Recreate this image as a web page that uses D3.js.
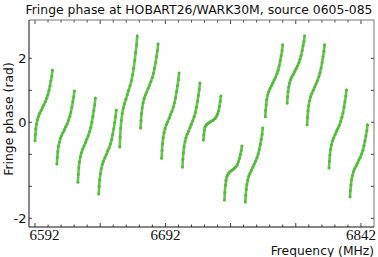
<!DOCTYPE html>
<html><head><meta charset="utf-8">
<script src="https://cdn.jsdelivr.net/npm/d3@7"></script>
<style>body{margin:0;background:#fff} svg{display:block}</style>
</head><body><svg id="c" width="378" height="257"></svg>
<script>
// Frequency (MHz) of channels, one array per scan segment
const segmentFreqs = [
 [6592.0,6592.3,6592.7,6593.2,6593.9,6594.7,6595.6,6596.7,6597.8,6598.8,6599.9,6601.0,6601.9,6602.7,6603.5,6604.2,6604.9,6605.4],
 [6608.8,6609.1,6609.5,6610.0,6610.7,6611.5,6612.4,6613.5,6614.6,6615.6,6616.7,6617.8,6618.7,6619.5,6620.3,6621.0,6621.7,6622.2],
 [6624.9,6625.2,6625.6,6626.1,6626.8,6627.6,6628.5,6629.6,6630.7,6631.7,6632.8,6633.9,6634.8,6635.6,6636.4,6637.1,6637.8,6638.3],
 [6640.9,6641.2,6641.6,6642.1,6642.8,6643.6,6644.5,6645.6,6646.7,6647.7,6648.8,6649.9,6650.8,6651.6,6652.4,6653.1,6653.8,6654.3],
 [6657.0,6657.3,6657.7,6658.2,6658.9,6659.7,6660.6,6661.7,6662.8,6663.8,6664.9,6666.0,6666.9,6667.7,6668.5,6669.2,6669.9,6670.4],
 [6673.0,6673.3,6673.7,6674.2,6674.9,6675.7,6676.6,6677.7,6678.8,6679.8,6680.9,6682.0,6682.9,6683.7,6684.5,6685.2,6685.9,6686.4],
 [6689.1,6689.4,6689.8,6690.3,6691.0,6691.8,6692.7,6693.8,6694.9,6695.9,6697.0,6698.1,6699.0,6699.8,6700.6,6701.3,6702.0,6702.5],
 [6705.1,6705.4,6705.8,6706.3,6707.0,6707.8,6708.7,6709.8,6710.9,6711.9,6713.0,6714.1,6715.0,6715.8,6716.6,6717.3,6718.0,6718.5],
 [6721.2,6721.5,6721.9,6722.4,6723.1,6723.9,6724.8,6725.9,6727.0,6728.0,6729.1,6730.2,6731.1,6731.9,6732.7,6733.4,6734.1,6734.6],
 [6737.3,6737.6,6738.0,6738.5,6739.2,6740.0,6740.9,6742.0,6743.1,6744.1,6745.2,6746.3,6747.2,6748.0,6748.8,6749.5,6750.2,6750.7],
 [6753.3,6753.6,6754.0,6754.5,6755.2,6756.0,6756.9,6758.0,6759.1,6760.1,6761.2,6762.3,6763.2,6764.0,6764.8,6765.5,6766.2,6766.7],
 [6768.6,6768.9,6769.3,6769.8,6770.5,6771.3,6772.2,6773.3,6774.4,6775.4,6776.5,6777.6,6778.5,6779.3,6780.1,6780.8,6781.5,6782.0],
 [6785.4,6785.7,6786.1,6786.6,6787.3,6788.1,6789.0,6790.1,6791.2,6792.2,6793.3,6794.4,6795.3,6796.1,6796.9,6797.6,6798.3,6798.8],
 [6800.7,6801.0,6801.4,6801.9,6802.6,6803.4,6804.3,6805.4,6806.5,6807.5,6808.6,6809.7,6810.6,6811.4,6812.2,6812.9,6813.6,6814.1],
 [6817.5,6817.8,6818.2,6818.7,6819.4,6820.2,6821.1,6822.2,6823.3,6824.3,6825.4,6826.5,6827.4,6828.2,6829.0,6829.7,6830.4,6830.9],
 [6833.6,6833.9,6834.3,6834.8,6835.5,6836.3,6837.2,6838.3,6839.4,6840.4,6841.5,6842.6,6843.5,6844.3,6845.1,6845.8,6846.5,6847.0]
];
// Fringe phase (rad), matching segmentFreqs
const segmentPhases = [
 [-0.58,-0.38,-0.20,-0.05,0.08,0.19,0.28,0.37,0.46,0.55,0.64,0.75,0.86,0.99,1.14,1.30,1.45,1.63],
 [-1.30,-1.10,-0.91,-0.75,-0.62,-0.50,-0.41,-0.32,-0.23,-0.14,-0.05,0.07,0.18,0.32,0.48,0.64,0.80,0.98],
 [-1.87,-1.63,-1.42,-1.24,-1.08,-0.95,-0.84,-0.74,-0.63,-0.53,-0.42,-0.29,-0.16,0.00,0.18,0.37,0.55,0.76],
 [-2.24,-2.00,-1.80,-1.61,-1.45,-1.32,-1.22,-1.11,-1.01,-0.90,-0.80,-0.67,-0.54,-0.38,-0.20,-0.01,0.17,0.38],
 [-0.77,-0.46,-0.18,0.06,0.27,0.45,0.58,0.72,0.86,1.00,1.14,1.31,1.49,1.69,1.94,2.18,2.42,2.70],
 [-0.18,0.06,0.27,0.45,0.61,0.74,0.85,0.95,1.06,1.16,1.27,1.40,1.53,1.69,1.87,2.06,2.24,2.45],
 [-1.12,-0.88,-0.67,-0.48,-0.32,-0.19,-0.08,0.02,0.13,0.24,0.34,0.48,0.61,0.77,0.96,1.14,1.33,1.54],
 [-1.40,-1.16,-0.95,-0.77,-0.61,-0.48,-0.37,-0.27,-0.16,-0.06,0.05,0.18,0.31,0.47,0.65,0.84,1.02,1.23],
 [-0.55,-0.39,-0.25,-0.15,-0.10,-0.06,-0.03,0.00,0.03,0.05,0.08,0.12,0.18,0.25,0.35,0.49,0.66,0.82],
 [-2.43,-2.19,-1.97,-1.81,-1.69,-1.62,-1.57,-1.53,-1.50,-1.47,-1.43,-1.38,-1.32,-1.23,-1.13,-1.01,-0.88,-0.74],
 [-2.49,-2.28,-2.10,-1.94,-1.80,-1.68,-1.59,-1.50,-1.40,-1.31,-1.22,-1.10,-0.99,-0.85,-0.69,-0.53,-0.37,-0.18],
 [0.17,0.37,0.55,0.71,0.85,0.96,1.05,1.14,1.23,1.32,1.41,1.52,1.63,1.77,1.93,2.08,2.24,2.42],
 [0.60,0.79,0.96,1.10,1.23,1.34,1.42,1.50,1.59,1.67,1.76,1.86,1.97,2.09,2.24,2.39,2.53,2.70],
 [-0.08,0.15,0.35,0.52,0.67,0.80,0.90,1.00,1.10,1.20,1.30,1.42,1.55,1.70,1.87,2.05,2.22,2.42],
 [-1.43,-1.21,-1.02,-0.84,-0.70,-0.58,-0.48,-0.38,-0.28,-0.19,-0.09,0.03,0.16,0.30,0.47,0.64,0.82,1.01],
 [-2.33,-2.13,-1.95,-1.79,-1.66,-1.54,-1.45,-1.36,-1.27,-1.18,-1.09,-0.98,-0.87,-0.73,-0.58,-0.42,-0.26,-0.08]
];
const xTickLabels = [6592, 6692, 6842];
const xMajorTicks = [6592, 6642, 6692, 6742, 6792, 6842];
const xMinorTicks = d3.range(6592, 6852, 10);
const yTickValues = [2, 1, 0, -1, -2, -3];
const yTickLabels = ["2", "", "0", "", "", "-2"];
const titleText = "Fringe phase at HOBART26/WARK30M, source 0605-085";
const xTitle = "Frequency (MHz)";
const yTitle = "Fringe phase (rad)";

const L = 29, R = 374, T = 20, B = 227;
const svg = d3.select("#c");
const x = d3.scaleLinear().domain([6587.4, 6852]).range([L, R]);
const y = d3.scaleLinear().domain([-3.272, 3.197]).range([B, T]);
const green = "#4cba33";

// data
const segs = segmentFreqs.map((fs, i) => fs.map((f, j) => [f, segmentPhases[i][j]]));
const line = d3.line().x(d => x(d[0])).y(d => y(d[1]));
svg.append("g").selectAll("path").data(segs)
  .join("path").attr("d", line).attr("fill", "none").attr("stroke", green)
  .attr("stroke-width", 2.6).attr("stroke-linecap", "round").attr("opacity", 0.85);
svg.append("g").selectAll("circle").data(segs.flat()).join("circle")
  .attr("cx", d => x(d[0])).attr("cy", d => y(d[1])).attr("r", 1.5).attr("fill", green).attr("opacity", 0.9);

// axes ticks
const tickCol = "#444";
function xTicks(yPos, dir) {
  svg.append("g").selectAll("line").data(xMinorTicks).join("line")
    .attr("x1", d => x(d)).attr("x2", d => x(d)).attr("y1", yPos)
    .attr("y2", d => yPos + dir * (xMajorTicks.includes(d) ? 4 : 2.5))
    .attr("stroke", tickCol).attr("stroke-width", 1);
}
xTicks(B, -1); xTicks(T, 1);
function yTicks(xPos, dir) {
  svg.append("g").selectAll("line").data(yTickValues).join("line")
    .attr("y1", d => y(d)).attr("y2", d => y(d)).attr("x1", xPos).attr("x2", xPos + dir * 3)
    .attr("stroke", tickCol).attr("stroke-width", 1);
}
yTicks(L, 1); yTicks(R, -1);

// spines
svg.append("line").attr("x1", L).attr("x2", R).attr("y1", T).attr("y2", T).attr("stroke", "#777");
svg.append("line").attr("x1", R).attr("x2", R).attr("y1", T).attr("y2", B).attr("stroke", "#777");
svg.append("line").attr("x1", L).attr("x2", R).attr("y1", B).attr("y2", B).attr("stroke", "#111");
svg.append("line").attr("x1", L).attr("x2", L).attr("y1", T).attr("y2", B).attr("stroke", "#111");

// tick labels
svg.append("g").selectAll("text").data(xTickLabels).join("text")
  .attr("x", (d, i) => i === 0 ? L + 0.5 : x(d))
  .attr("y", 240)
  .attr("text-anchor", (d, i) => i === 0 ? "start" : "middle")
  .attr("font-family", "Liberation Serif").attr("font-size", 15).attr("fill", "#111")
  .text(d => d);
svg.append("g").selectAll("text").data(yTickValues).join("text")
  .attr("x", 26.5).attr("y", d => y(d)).attr("dy", "0.36em")
  .attr("text-anchor", "end")
  .attr("font-family", "DejaVu Sans").attr("font-size", 13).attr("fill", "#111")
  .text((d, i) => yTickLabels[i]);

// titles
svg.append("text").attr("x", 199).attr("y", 14).attr("text-anchor", "middle")
  .attr("font-family", "DejaVu Sans").attr("font-size", 12.4).attr("fill", "#111").text(titleText);
svg.append("text").attr("x", 374).attr("y", 255).attr("text-anchor", "end")
  .attr("font-family", "DejaVu Sans").attr("font-size", 12.3).attr("fill", "#111").text(xTitle);
svg.append("text").attr("transform", "translate(12.5,119) rotate(-90)").attr("text-anchor", "middle")
  .attr("font-family", "DejaVu Sans").attr("font-size", 12.4).attr("fill", "#111").text(yTitle);
</script></body></html>
